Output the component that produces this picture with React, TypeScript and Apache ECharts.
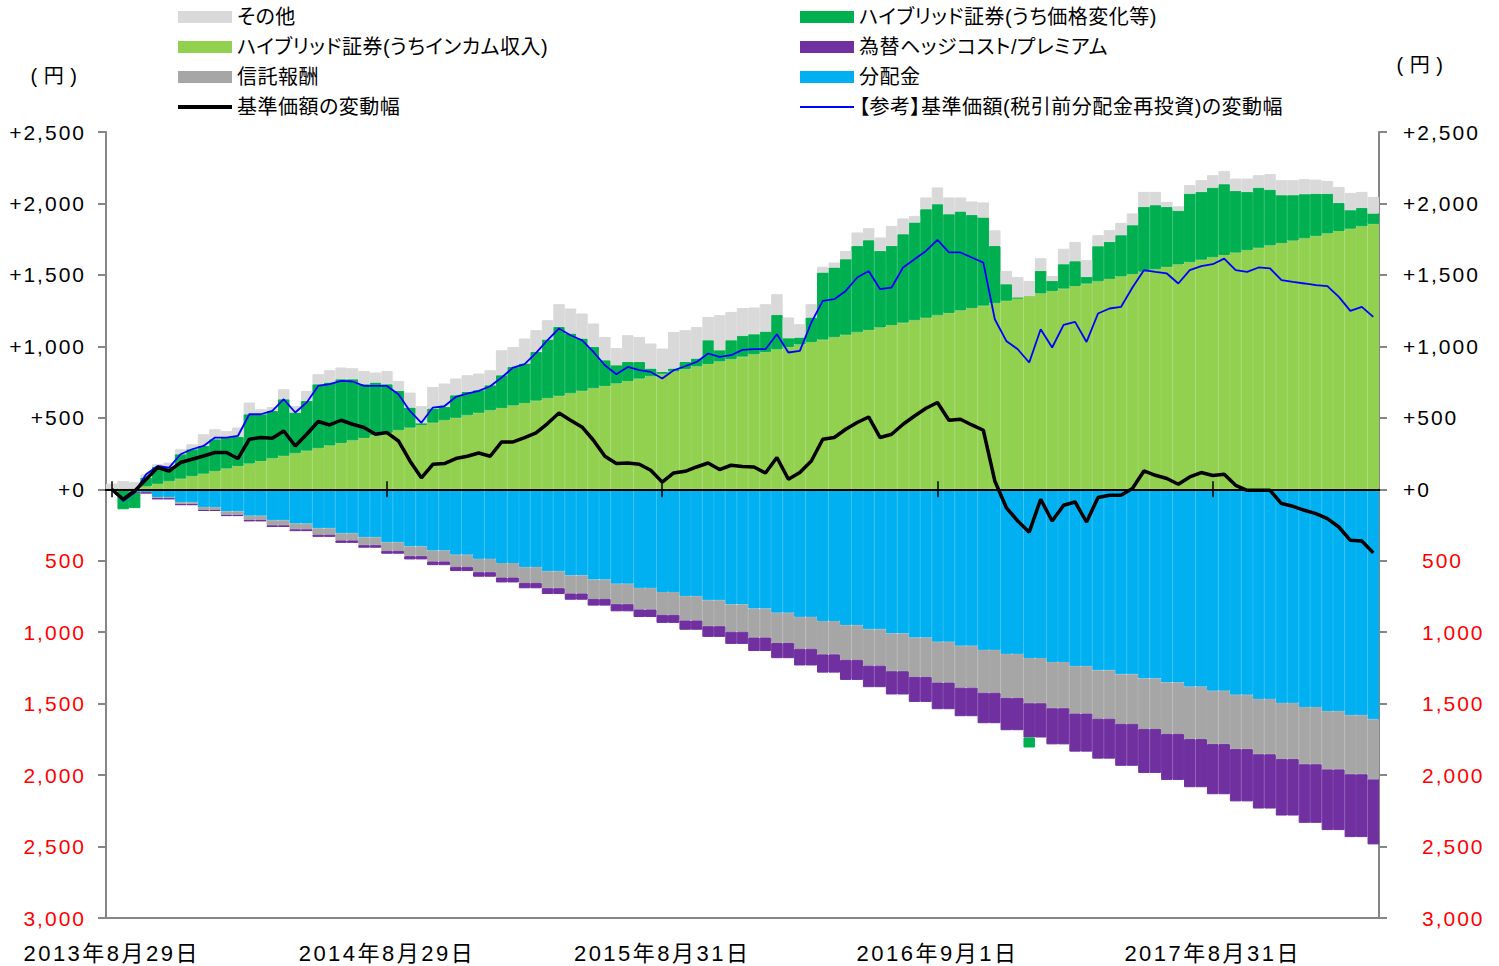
import React, { useEffect, useRef } from 'react';
import * as echarts from 'echarts';

// ---------- categories (business dates, roughly half-monthly) ----------
const categories = [
  '2013-08-29','2013-09-13','2013-09-30','2013-10-15','2013-10-31','2013-11-15','2013-11-29','2013-12-13','2013-12-30','2014-01-15',
  '2014-01-31','2014-02-14','2014-02-28','2014-03-14','2014-03-31','2014-04-15','2014-04-30','2014-05-15','2014-05-30','2014-06-13',
  '2014-06-30','2014-07-15','2014-07-31','2014-08-15','2014-08-29','2014-09-12','2014-09-30','2014-10-15','2014-10-31','2014-11-14',
  '2014-11-28','2014-12-15','2014-12-30','2015-01-15','2015-01-30','2015-02-13','2015-02-27','2015-03-13','2015-03-31','2015-04-15',
  '2015-04-30','2015-05-15','2015-05-29','2015-06-15','2015-06-30','2015-07-15','2015-07-31','2015-08-14','2015-08-31','2015-09-15',
  '2015-09-30','2015-10-15','2015-10-30','2015-11-13','2015-11-30','2015-12-15','2015-12-30','2016-01-15','2016-01-29','2016-02-15',
  '2016-02-29','2016-03-15','2016-03-31','2016-04-15','2016-04-28','2016-05-13','2016-05-31','2016-06-15','2016-06-30','2016-07-15',
  '2016-07-29','2016-08-15','2016-09-01','2016-09-15','2016-09-30','2016-10-14','2016-10-31','2016-11-15','2016-11-30','2016-12-15',
  '2016-12-30','2017-01-13','2017-01-31','2017-02-15','2017-02-28','2017-03-15','2017-03-31','2017-04-14','2017-04-28','2017-05-15',
  '2017-05-31','2017-06-15','2017-06-30','2017-07-14','2017-07-31','2017-08-15','2017-08-31','2017-09-15','2017-09-29','2017-10-13',
  '2017-10-31','2017-11-15','2017-11-30','2017-12-15','2017-12-29','2018-01-15','2018-01-31','2018-02-15','2018-02-28','2018-03-15',
  '2018-03-30',
];

const xTickDates = ['2013-08-29', '2014-08-29', '2015-08-31', '2016-09-01', '2017-08-31'];
const xTickLabels = ['2013年8月29日', '2014年8月29日', '2015年8月31日', '2016年9月1日', '2017年8月31日'];

const NAME_OTHER = 'その他';
const NAME_INCOME = 'ハイブリッド証券(うちインカム収入)';
const NAME_FEE = '信託報酬';
const NAME_NAV = '基準価額の変動幅';
const NAME_PRICE = 'ハイブリッド証券(うち価格変化等)';
const NAME_HEDGE = '為替ヘッジコスト/プレミアム';
const NAME_DIST = '分配金';
const NAME_REF = '【参考】基準価額(税引前分配金再投資)の変動幅';

// ---------- values (円) ----------
const income = [
  0, 0, 5, 20, 38, 56, 74, 92, 109, 127,
  145, 163, 180, 198, 216, 234, 252, 270, 288, 306,
  324, 342, 359, 377, 395, 413, 431, 449, 466, 483,
  500, 518, 535, 552, 569, 586, 603, 620, 637, 654,
  672, 689, 706, 723, 740, 757, 774, 791, 808, 825,
  842, 860, 877, 894, 911, 928, 944, 961, 979, 996,
  1013, 1030, 1047, 1064, 1081, 1098, 1115, 1132, 1149, 1166,
  1183, 1200, 1217, 1234, 1251, 1268, 1285, 1302, 1319, 1336,
  1353, 1370, 1387, 1404, 1422, 1439, 1455, 1472, 1489, 1506,
  1522, 1539, 1556, 1573, 1589, 1606, 1623, 1639, 1656, 1673,
  1690, 1706, 1723, 1740, 1756, 1773, 1790, 1807, 1823, 1840, 1857,
];

const priceChange = [
  0, -140, -105, 62, 118, 100, 171, 188, 194, 223,
  217, 203, 345, 327, 332, 396, 285, 348, 447, 441,
  446, 428, 376, 370, 340, 275, 141, 13, 99, 93,
  158, 163, 158, 176, 229, 270, 277, 341, 411, 482,
  418, 366, 290, 180, 128, 134, 117, 54, 13, 20,
  49, 55, 166, 79, 132, 147, 141, 143, 241, 61,
  49, 172, 470, 488, 529, 605, 628, 536, 554, 619,
  684, 760, 778, 691, 693, 652, 617, 400, 116, 6,
  -70, 158, 71, 171, 174, 47, 246, 259, 289, 342,
  454, 449, 420, 377, 480, 475, 488, 496, 432, 408,
  421, 391, 335, 318, 309, 296, 279, 197, 130, 129, 73,
];

const others = [
  40, 58, 47, 23, 19, 31, 35, 35, 82, 70,
  46, 66, 82, 35, 28, 70, 46, 70, 70, 86,
  82, 77, 93, 70, 93, 70, 105, 120, 151, 164,
  117, 117, 117, 105, 175, 140, 175, 152, 135, 159,
  175, 175, 164, 163, 120, 187, 175, 175, 164, 256,
  222, 221, 163, 245, 198, 193, 187, 191, 145, 145,
  93, 93, 40, 35, 58, 94, 84, 94, 140, 110,
  46, 82, 117, 117, 98, 94, 105, 110, 93, 144,
  105, 89, 35, 108, 135, 117, 77, 82, 86, 82,
  105, 93, 35, 30, 59, 82, 87, 93, 86, 93,
  87, 108, 105, 105, 105, 98, 89, 112, 121, 112, 116,
];

const distribution = [
  0, 0, -20, -20, -55, -55, -90, -90, -125, -125,
  -155, -155, -185, -185, -217, -217, -240, -240, -273, -273,
  -308, -308, -336, -336, -371, -371, -400, -400, -429, -429,
  -458, -458, -487, -487, -516, -516, -545, -545, -574, -574,
  -603, -603, -632, -632, -661, -661, -690, -690, -719, -719,
  -748, -748, -777, -777, -806, -806, -835, -835, -864, -864,
  -893, -893, -922, -922, -951, -951, -980, -980, -1009, -1009,
  -1038, -1038, -1067, -1067, -1095, -1095, -1124, -1124, -1152, -1152,
  -1181, -1181, -1209, -1209, -1238, -1238, -1267, -1267, -1295, -1295,
  -1324, -1324, -1352, -1352, -1381, -1381, -1410, -1410, -1438, -1438,
  -1467, -1467, -1495, -1495, -1524, -1524, -1553, -1553, -1581, -1581, -1610,
];

const trustFee = [
  0, 0, -5, -5, -10, -10, -15, -15, -20, -20,
  -25, -25, -30, -30, -35, -35, -40, -40, -45, -45,
  -50, -50, -55, -55, -60, -60, -68, -68, -76, -76,
  -85, -85, -93, -93, -101, -101, -110, -110, -118, -118,
  -126, -126, -135, -135, -143, -143, -151, -151, -160, -160,
  -170, -170, -181, -181, -191, -191, -202, -202, -212, -212,
  -223, -223, -233, -233, -243, -243, -254, -254, -264, -264,
  -275, -275, -285, -285, -293, -293, -300, -300, -308, -308,
  -316, -316, -323, -323, -331, -331, -338, -338, -346, -346,
  -353, -353, -360, -360, -367, -367, -373, -373, -380, -380,
  -387, -387, -393, -393, -400, -400, -407, -407, -413, -413, -420,
];

const hedgeCost = [
  0, 0, -2, -2, -3, -3, -5, -5, -7, -7,
  -8, -8, -10, -10, -12, -12, -13, -13, -15, -15,
  -17, -17, -18, -18, -20, -20, -23, -23, -26, -26,
  -29, -29, -32, -32, -35, -35, -38, -38, -41, -41,
  -44, -44, -47, -47, -50, -50, -53, -53, -56, -56,
  -65, -65, -75, -75, -85, -85, -95, -95, -106, -106,
  -117, -117, -128, -128, -140, -140, -151, -151, -163, -163,
  -175, -175, -187, -187, -200, -200, -213, -213, -226, -226,
  -240, -240, -253, -253, -267, -267, -280, -280, -294, -294,
  -308, -308, -322, -322, -337, -337, -351, -351, -366, -366,
  -380, -380, -395, -395, -410, -410, -425, -425, -440, -440, -455,
];

const navChange = [
  0, -70, -12, 70, 152, 128, 187, 210, 233, 257,
  257, 215, 350, 362, 357, 408, 303, 385, 474, 450,
  483, 455, 432, 385, 397, 338, 198, 80, 175, 180,
  215, 231, 254, 231, 331, 331, 362, 394, 460, 534,
  483, 436, 343, 231, 180, 184, 175, 133, 50, 114,
  126, 156, 184, 138, 168, 160, 156, 114, 222, 70,
  117, 198, 350, 362, 420, 467, 506, 362, 385, 455,
  513, 567, 607, 483, 490, 450, 413, 58, -128, -222,
  -300, -70, -222, -112, -89, -229, -58, -42, -42, 5,
  128, 98, 75, 35, 86, 117, 96, 105, 28, -7,
  -7, -7, -100, -119, -147, -170, -205, -264, -357, -362, -445,
];

const navReinvested = [
  0, -82, -23, 105, 163, 152, 245, 280, 303, 362,
  362, 373, 525, 525, 548, 630, 537, 607, 723, 735,
  758, 754, 723, 723, 723, 665, 548, 465, 572, 581,
  646, 670, 688, 721, 782, 852, 875, 954, 1043, 1125,
  1078, 1043, 961, 868, 805, 856, 833, 821, 775, 833,
  861, 891, 950, 926, 938, 975, 980, 980, 1085, 957,
  968, 1167, 1318, 1330, 1388, 1482, 1528, 1400, 1412, 1552,
  1610, 1668, 1745, 1657, 1657, 1622, 1586, 1190, 1038, 980,
  887, 1120, 992, 1150, 1171, 1031, 1230, 1265, 1276, 1412,
  1533, 1521, 1510, 1440, 1533, 1561, 1575, 1614, 1533, 1521,
  1552, 1545, 1463, 1451, 1440, 1428, 1421, 1346, 1248, 1276, 1206,
];

const FONT = "'Liberation Sans', Arial, 'Noto Sans CJK JP', sans-serif";

export default function App() {
  const ref = useRef<HTMLDivElement>(null);

  useEffect(() => {
    const chart = echarts.init(ref.current!, null, { renderer: 'svg' });
    const tickSet = new Set(xTickDates.map((d) => categories.indexOf(d)));
    const fmt = (v: number) => Math.abs(v).toLocaleString('en-US');
    const leftLabel = (v: number) => (v > 0 ? '+' + fmt(v) : v === 0 ? '+0' : '{n|' + fmt(v) + '}');
    const rightLabel = (v: number) => (v > 0 ? '+' + fmt(v) : v === 0 ? '+0' : '{n|' + fmt(v) + '}');

    const yBase: any = {
      type: 'value',
      min: -3000,
      max: 2500,
      interval: 500,
      axisLine: { show: true, onZero: false, lineStyle: { color: '#868686', width: 2 } },
      axisTick: { show: true, length: 8, lineStyle: { color: '#868686', width: 2 } },
      splitLine: { show: false },
    };

    const zeroAxis = (position: string, idx: number): any => ({
      type: 'category',
      data: categories,
      position,
      boundaryGap: true,
      z: 5,
      axisLine: { show: true, onZero: true, onZeroAxisIndex: idx, lineStyle: { color: '#000', width: 2 } },
      axisTick: {
        show: true,
        alignWithLabel: true,
        interval: (i: number) => tickSet.has(i),
        length: 8,
        lineStyle: { color: '#000', width: 1.5 },
      },
      axisLabel: { show: false },
      splitLine: { show: false },
    });

    const bar = (name: string, data: number[], color: string): any => ({
      type: 'bar',
      name,
      data,
      stack: 'total',
      barCategoryGap: '0%',
      xAxisIndex: 0,
      yAxisIndex: 0,
      silent: true,
      itemStyle: { color, borderColor: color, borderWidth: 1 },
    });

    const legendItem = (name: string, left: number, top: number, iconHeight = 12): any => ({
      data: [{ name, icon: 'rect' }],
      left,
      top,
      orient: 'horizontal',
      padding: 0,
      itemWidth: 54,
      itemHeight: iconHeight,
      itemGap: 0,
      selectedMode: false,
      itemStyle: { borderWidth: 0 },
      textStyle: { fontSize: 20, color: '#000', fontFamily: FONT, lineHeight: 24 },
    });

    chart.setOption({
      animation: false,
      grid: { left: 106, right: 120, top: 132, bottom: 48, outerBoundsMode: 'none' },
      legend: [
        legendItem(NAME_OTHER, 178, 5),
        legendItem(NAME_INCOME, 178, 35),
        legendItem(NAME_FEE, 178, 65),
        legendItem(NAME_NAV, 178, 95, 4),
        legendItem(NAME_PRICE, 800, 5),
        legendItem(NAME_HEDGE, 800, 35),
        legendItem(NAME_DIST, 800, 65),
        legendItem(NAME_REF, 800, 95, 2),
      ],
      graphic: [
        {
          type: 'text',
          x: 54,
          y: 76,
          style: { text: '( 円 )', fontSize: 20, fontFamily: FONT, fill: '#000', align: 'center', verticalAlign: 'middle' },
        },
        {
          type: 'text',
          x: 1420,
          y: 65,
          style: { text: '( 円 )', fontSize: 20, fontFamily: FONT, fill: '#000', align: 'center', verticalAlign: 'middle' },
        },
      ],
      xAxis: [
        zeroAxis('bottom', 0),
        zeroAxis('top', 1),
        {
          type: 'category',
          data: categories,
          position: 'bottom',
          boundaryGap: true,
          axisLine: { show: true, onZero: false, lineStyle: { color: '#868686', width: 2 } },
          axisTick: { show: false },
          splitLine: { show: false },
          axisLabel: {
            interval: (i: number) => tickSet.has(i),
            formatter: (v: string) => {
              const k = xTickDates.indexOf(v);
              return k >= 0 ? xTickLabels[k] : '';
            },
            margin: 24,
            fontSize: 22,
            color: '#000',
            fontFamily: FONT,
          },
        },
      ],
      yAxis: [
        {
          ...yBase,
          position: 'left',
          axisLabel: {
            formatter: leftLabel,
            margin: 20,
            fontSize: 21,
            color: '#000',
            fontFamily: FONT,
            rich: { n: { color: '#FF0000', fontSize: 21, fontFamily: FONT } },
          },
        },
        {
          ...yBase,
          position: 'right',
          axisLabel: {
            formatter: rightLabel,
            margin: 24,
            fontSize: 21,
            color: '#000',
            fontFamily: FONT,
            rich: { n: { color: '#FF0000', fontSize: 21, fontFamily: FONT, padding: [0, 0, 0, 19] } },
          },
        },
      ],
      series: [
        bar(NAME_INCOME, income, '#92D050'),
        bar(NAME_DIST, distribution, '#00B0F0'),
        bar(NAME_FEE, trustFee, '#A6A6A6'),
        bar(NAME_HEDGE, hedgeCost, '#7030A0'),
        bar(NAME_PRICE, priceChange, '#00B050'),
        bar(NAME_OTHER, others, '#D9D9D9'),
        {
          type: 'line',
          name: NAME_REF,
          data: navReinvested,
          symbol: 'none',
          showSymbol: false,
          silent: true,
          z: 9,
          lineStyle: { color: '#0000FF', width: 1.8 },
          itemStyle: { color: '#0000FF' },
        },
        {
          type: 'line',
          name: NAME_NAV,
          data: navChange,
          symbol: 'none',
          showSymbol: false,
          silent: true,
          z: 10,
          lineStyle: { color: '#000000', width: 3.5 },
          itemStyle: { color: '#000000' },
        },
      ],
    });

    return () => chart.dispose();
  }, []);

  return (
    <>
      <style>{`
        html, body { margin: 0; padding: 0; background: #fff; }
        #root svg text { font-feature-settings: "palt" 1; }
        #root svg text[style*="21px"] { letter-spacing: 2px; }
        #root svg text[style*="22px"] { letter-spacing: 2.5px; }
        #root svg text[style*="20px"] { letter-spacing: 0.5px; }
      `}</style>
      <div ref={ref} style={{ width: 1499, height: 966 }} />
    </>
  );
}
